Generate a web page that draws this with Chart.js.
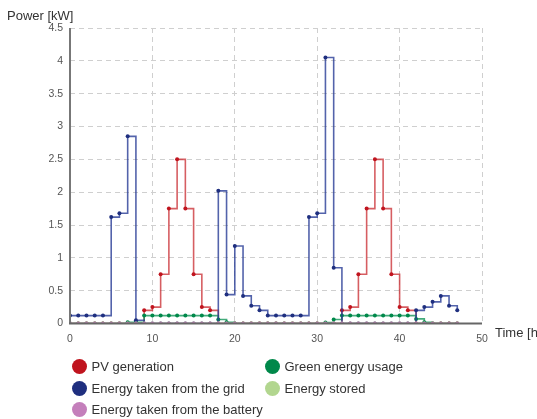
<!DOCTYPE html>
<html>
<head>
<meta charset="utf-8">
<script src="https://cdn.jsdelivr.net/npm/chart.js@4.4.0/dist/chart.umd.min.js"></script>
<style>
  body { margin: 0; background: #fff; font-family: "Liberation Sans", Arial, sans-serif; }
  #wrap { position: relative; width: 537px; height: 419px; overflow: hidden; }
  #wrap canvas { position: absolute; left: 0; top: 0; }
  .leg { position: absolute; font-size: 13px; color: #333; white-space: nowrap; line-height: 15px; }
  .leg span { display: inline-block; width: 15px; height: 15px; border-radius: 50%; vertical-align: top; margin-right: 5px; }
</style>
</head>
<body>
<div id="wrap">
  <canvas id="power" width="537" height="419"></canvas>
</div>
<script>
// hours of the two-day simulation
const hours = [0,1,2,3,4,5,6,7,8,9,10,11,12,13,14,15,16,17,18,19,20,21,22,23,
               24,25,26,27,28,29,30,31,32,33,34,35,36,37,38,39,40,41,42,43,44,45,46,47];

const pvGeneration = [0,0,0,0,0,0,0,0,0,0.2,0.25,0.75,1.75,2.5,1.75,0.75,0.25,0.2,0,0,0,0,0,0,
                      0,0,0,0,0,0,0,0,0,0.2,0.25,0.75,1.75,2.5,1.75,0.75,0.25,0.2,0,0,0,0,0,0];
const gridEnergy   = [0.12,0.12,0.12,0.12,0.12,1.62,1.68,2.85,0.05,0,0,0,0,0,0,0,0,0,2.02,0.44,1.18,0.42,0.27,0.2,
                      0.12,0.12,0.12,0.12,0.12,1.62,1.68,4.05,0.85,0,0,0,0,0,0,0,0,0,0.2,0.25,0.33,0.42,0.27,0.2];
const greenUsage   = [0,0,0,0,0,0,0,0.02,0.02,0.12,0.12,0.12,0.12,0.12,0.12,0.12,0.12,0.12,0.06,0.02,0,0,0,0,
                      0,0,0,0,0,0,0,0.015,0.06,0.12,0.12,0.12,0.12,0.12,0.12,0.12,0.12,0.12,0.07,0.02,0,0,0,0];
const energyStored = [0,0,0,0,0,0,0,0,0,0,0,0,0,0,0,0,0,0,0,0,0,0,0,0,
                      0,0,0,0,0,0,0,0,0,0,0,0,0,0,0,0,0,0,0,0,0,0,0,0];
const batteryUsage = [0,0,0,0,0,0,0,0,0,0,0,0,0,0,0,0,0,0,0,0,0,0,0,0,
                      0,0,0,0,0,0,0,0,0,0,0,0,0,0,0,0,0,0,0,0,0,0,0,0];

const xTicks = [0,10,20,30,40,50];
const yTicks = [0,0.5,1,1.5,2,2.5,3,3.5,4,4.5];

function pts(values) {
    return hours.map((h, i) => ({ x: h, y: values[i] }));
}

function series(label, values, dot, line, order) {
    return {
        label: label,
        data: pts(values),
        borderColor: line,
        backgroundColor: dot,
        pointBackgroundColor: dot,
        pointBorderColor: dot,
        pointRadius: 2,
        pointBorderWidth: 0,
        borderWidth: 1.6,
        stepped: true,
        fill: false,
        order: order
    };
}

const datasets = [
    series('PV generation', pvGeneration, '#c0141e', 'rgba(200,40,45,0.75)', 4),
    series('Green energy usage', greenUsage, '#00884a', 'rgba(20,150,90,0.8)', 3),
    series('Energy taken from the grid', gridEnergy, '#1f2f7f', 'rgba(40,60,150,0.8)', 2),
    series('Energy stored', energyStored, '#b2d68f', 'rgba(178,214,143,0.9)', 1),
    series('Energy taken from the battery', batteryUsage, '#c47fbb', 'rgba(196,127,187,0.9)', 0)
];

// axis titles drawn flat, plus both axis lines back on top
const axisExtras = {
    id: 'axisExtras',
    afterDatasetsDraw(chart) {
        const ctx = chart.ctx;
        const a = chart.chartArea;
        ctx.save();
        ctx.setLineDash([]);
        ctx.lineWidth = 2;
        ctx.strokeStyle = '#777';
        ctx.beginPath();
        ctx.moveTo(a.left, a.top);
        ctx.lineTo(a.left, a.bottom);
        ctx.stroke();
        ctx.strokeStyle = '#666';
        ctx.beginPath();
        ctx.moveTo(a.left - 1, a.bottom);
        ctx.lineTo(a.right, a.bottom);
        ctx.stroke();
        ctx.fillStyle = '#333';
        ctx.font = '13px "Liberation Sans", Arial, sans-serif';
        ctx.textBaseline = 'alphabetic';
        ctx.textAlign = 'left';
        ctx.fillText('Power [kW]', 7, 20);
        ctx.fillText('Time [h]', a.right + 13, a.bottom + 13);
        ctx.restore();
    }
};

const tickFont = { size: 10.5, family: '"Liberation Sans", Arial' };

new Chart(document.getElementById('power'), {
    type: 'line',
    data: { datasets: datasets },
    options: {
        responsive: false,
        animation: false,
        layout: { padding: { top: 28, right: 55, bottom: 0, left: 0 } },
        plugins: { legend: { display: false }, tooltip: { enabled: false } },
        scales: {
            x: {
                type: 'linear',
                min: 0,
                max: 50,
                afterBuildTicks: (s) => { s.ticks = xTicks.map(v => ({ value: v })); },
                afterFit: (s) => { s.height = 95.5; },
                ticks: { padding: 9, color: '#555', font: tickFont, callback: (v) => String(v) },
                grid: { color: '#cfcfcf', lineWidth: 1, drawTicks: false },
                border: { display: false, dash: [5, 4] }
            },
            y: {
                min: 0,
                max: 4.5,
                afterBuildTicks: (s) => { s.ticks = yTicks.map(v => ({ value: v })); },
                afterFit: (s) => { s.width = 70; },
                ticks: { padding: 7, color: '#555', font: tickFont, callback: (v) => String(v) },
                grid: { color: '#cfcfcf', lineWidth: 1, drawTicks: false },
                border: { display: false, dash: [5, 4] }
            }
        }
    },
    plugins: [axisExtras]
});

// legend in two columns, like the original
const legendSlots = [
    { i: 0, x: 71.5, y: 359 },
    { i: 2, x: 71.5, y: 380.5 },
    { i: 4, x: 71.5, y: 402 },
    { i: 1, x: 264.5, y: 359 },
    { i: 3, x: 264.5, y: 380.5 }
];
const wrap = document.getElementById('wrap');
legendSlots.forEach(s => {
    const d = document.createElement('div');
    d.className = 'leg';
    d.style.left = s.x + 'px';
    d.style.top = s.y + 'px';
    const dot = document.createElement('span');
    dot.style.background = datasets[s.i].pointBackgroundColor;
    d.appendChild(dot);
    d.appendChild(document.createTextNode(datasets[s.i].label));
    wrap.appendChild(d);
});
</script>
</body>
</html>
